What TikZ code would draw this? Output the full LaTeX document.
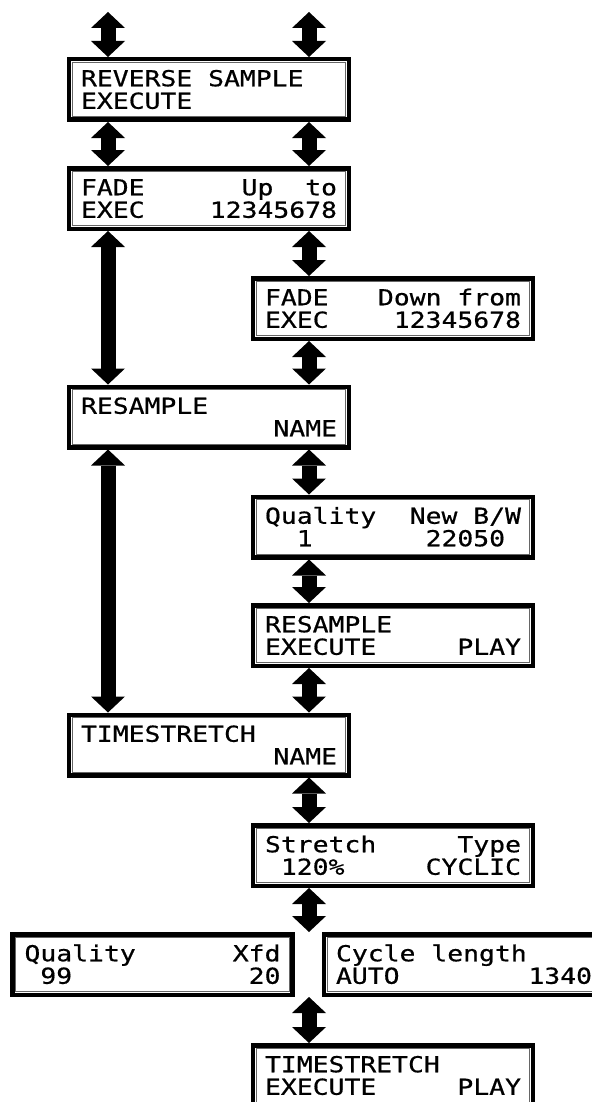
\documentclass[tikz,border=0pt]{standalone}
\usepackage{fontspec}
\newfontfamily\lcdfont[FakeStretch=1.2,FakeBold=0.6]{DejaVu Sans Mono}
\usepackage{tikz}
\usetikzlibrary{arrows.meta,positioning}

% one LCD row: left part and right part in 16 cells
\newcommand{\lcdrow}[2]{\makebox[128pt][l]{#1\hfill#2}}
\newcommand{\lcd}[4]{\rule{0pt}{8pt}\smash{\lcdrow{#1}{#2}}\\\smash{\lcdrow{#3}{#4}}}

\begin{document}
\begin{tikzpicture}[
    x=0.5pt, y=-0.5pt,
    lcdbox/.style={rectangle, draw, line width=2.25pt, minimum width=140pt, minimum height=30.25pt,
        inner sep=0pt, align=left, font=\lcdfont\fontsize{11pt}{11.25pt}\selectfont,
        path picture={\draw[black!60, line width=0.5pt]
            ([shift={(1.6pt,1.6pt)}]path picture bounding box.south west) rectangle
            ([shift={(-1.6pt,-1.6pt)}]path picture bounding box.north east);}},
    dbl/.style={line width=7.5pt,
        {Triangle[width=17pt,length=8pt,line width=0pt]}-{Triangle[width=17pt,length=8pt,line width=0pt]}}
]
\useasboundingbox (0,0) rectangle (591,1102);

\node[lcdbox] (revs) at (209,89.5) {\lcd{REVERSE~SAMPLE}{}{EXECUTE}{}};
\node[lcdbox] (fadeup) at (209,198.5) {\lcd{FADE}{Up~~to}{EXEC}{12345678}};
\node[lcdbox] (fadedn) at (393,308.5) {\lcd{FADE}{Down~from}{EXEC}{12345678}};
\node[lcdbox] (resname) at (209,417) {\lcd{RESAMPLE}{}{}{NAME}};
\node[lcdbox] (resqual) at (393,527) {\lcd{Quality}{New~B/W}{\phantom{0}\phantom{0}1}{22050\phantom{0}}};
\node[lcdbox] (resexec) at (393,635.5) {\lcd{RESAMPLE}{}{EXECUTE}{PLAY}};
\node[lcdbox] (tsname) at (209,745) {\lcd{TIMESTRETCH}{}{}{NAME}};
\node[lcdbox] (tsstretch) at (393,855.5) {\lcd{Stretch}{Type}{\phantom{0}120\%}{CYCLIC}};
\node[lcdbox] (tsqual) at (152.5,964.5) {\lcd{Quality}{Xfd}{\phantom{0}99}{20}};
\node[lcdbox] (tscycle) at (464,964.5) {\lcd{Cycle~length}{}{AUTO}{1340}};
\node[lcdbox] (tsexec) at (393,1075.5) {\lcd{TIMESTRETCH}{}{EXECUTE}{PLAY}};

% the two arrow columns
\coordinate (lcol) at (108,0);
\coordinate (rcol) at (309,0);
\coordinate (topl) at (108,12);
\coordinate (topr) at (309,12);

\draw[dbl] (topl) -- (revs.north -| lcol);
\draw[dbl] (topr) -- (revs.north -| rcol);
\draw[dbl] (revs.south -| lcol) -- (fadeup.north -| lcol);
\draw[dbl] (revs.south -| rcol) -- (fadeup.north -| rcol);
\draw[dbl] (fadeup.south -| lcol) -- (resname.north -| lcol);
\draw[dbl] (fadeup.south -| rcol) -- (fadedn.north -| rcol);
\draw[dbl] (fadedn.south -| rcol) -- (resname.north -| rcol);
\draw[dbl] (resname.south -| lcol) -- (tsname.north -| lcol);
\draw[dbl] (resname.south -| rcol) -- (resqual.north -| rcol);
\draw[dbl] (resqual.south -| rcol) -- (resexec.north -| rcol);
\draw[dbl] (resexec.south -| rcol) -- (tsname.north -| rcol);
\draw[dbl] (tsname.south -| rcol) -- (tsstretch.north -| rcol);
\draw[dbl] (tsstretch.south -| rcol) -- (tsqual.north -| rcol);
\draw[dbl] (tsqual.south -| rcol) -- (tsexec.north -| rcol);

\end{tikzpicture}
\end{document}
